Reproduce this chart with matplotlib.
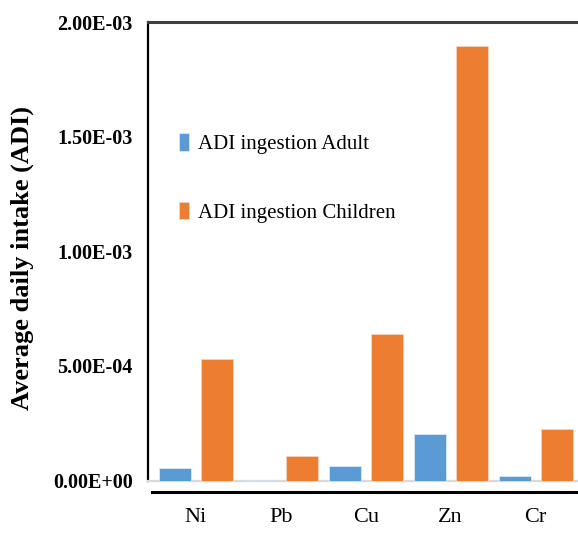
import numpy as np
import matplotlib
matplotlib.use("Agg")
import matplotlib.pyplot as plt
from matplotlib.lines import Line2D

# Heavy-metal average daily intake by ingestion route
metals = ["Ni", "Pb", "Cu", "Zn", "Cr"]
adi_adult = [5.3e-5, 2.0e-6, 6.3e-5, 2.04e-4, 2.0e-5]
adi_children = [5.30e-4, 1.07e-4, 6.40e-4, 1.895e-3, 2.26e-4]
series_names = ["ADI ingestion Adult", "ADI ingestion Children"]
ytick_values = [0.0, 5e-4, 1e-3, 1.5e-3, 2e-3]
ytick_labels = ["0.00E+00", "5.00E-04", "1.00E-03", "1.50E-03", "2.00E-03"]

W, H = 578, 538
fig = plt.figure(figsize=(W / 100, H / 100), dpi=100)
serif = ["Liberation Serif", "DejaVu Serif"]

left, right, top, bottom = 148, 578, 22, 480.5
ax = fig.add_axes([left / W, 1 - bottom / H, (right - left) / W, (bottom - top) / H])

x = np.arange(len(metals))
bw = 0.377
off = 0.247
ax.bar(x - off, adi_adult, bw, color="#5B9BD5", edgecolor="#DCE9F6", linewidth=0.6,
       label=series_names[0], zorder=3)
ax.bar(x + off, adi_children, bw, color="#ED7D31", edgecolor="#F8D3BA", linewidth=0.6,
       label=series_names[1], zorder=3)

ax.set_xlim(-0.565, 4.5)
ax.set_ylim(0, 2e-3)
ax.set_yticks(ytick_values)
ax.set_yticklabels(ytick_labels, fontfamily=serif, fontweight="bold", fontsize=14.5)
ax.set_xticks(x)
ax.set_xticklabels(metals, fontfamily=serif, fontsize=16)
ax.tick_params(axis="y", length=0, pad=11)
ax.tick_params(axis="x", length=0, pad=20)

ax.spines["right"].set_visible(False)
ax.spines["left"].set_color("black")
ax.spines["left"].set_linewidth(1.6)
ax.spines["top"].set_color("#404040")
ax.spines["top"].set_linewidth(2.2)
ax.spines["bottom"].set_color("#D9D9D9")
ax.spines["bottom"].set_linewidth(1.6)

ax.set_ylabel("Average daily intake (ADI)", fontfamily=serif, fontweight="bold", fontsize=19)
ax.yaxis.set_label_coords(-0.265, 0.485)

# Separator rule beneath the plot area
fig.add_artist(Line2D([152 / W, 1.0], [1 - 492 / H, 1 - 492 / H], color="black", linewidth=2.2))

ax.legend(loc="upper left", bbox_to_anchor=(0.072, 0.757), frameon=False,
          prop={"family": serif, "size": 15}, borderpad=0, borderaxespad=0,
          handlelength=0.5, handleheight=0.9, handletextpad=0.4, labelspacing=2.3)

fig.savefig("out.png", dpi=100)
